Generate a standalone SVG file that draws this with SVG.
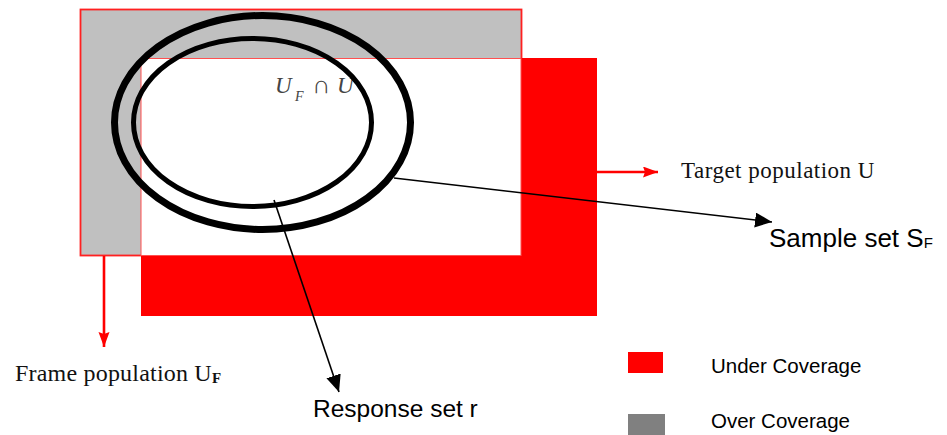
<svg xmlns="http://www.w3.org/2000/svg" width="947" height="435" viewBox="0 0 947 435">
<style>
.serif{font-family:"Liberation Serif","Times New Roman",serif;fill:#111}
.sans{font-family:"Liberation Sans",Arial,sans-serif;fill:#000}
.math{font-family:"Liberation Serif","Times New Roman",serif;font-style:italic;fill:#444}
.blk{stroke:#000;stroke-width:1.6;fill:none}
.red{stroke:#ff0000;stroke-width:2.6;fill:none}
</style>
<defs>
<marker id="ab" markerUnits="userSpaceOnUse" markerWidth="18" markerHeight="16" refX="17" refY="7.5" orient="auto">
<path d="M0,0 L17,7.5 L0,15 z" fill="#000"/>
</marker>
<marker id="ar" markerUnits="userSpaceOnUse" markerWidth="16" markerHeight="12" refX="15" refY="5.5" orient="auto">
<path d="M0,0 L15,5.5 L0,11 L2,5.5 z" fill="#ff0000"/>
</marker>
</defs>
<rect width="947" height="435" fill="#fff"/>
<g id="frame-population">
<rect x="80.5" y="9.5" width="441" height="246" fill="#c0c0c0" stroke="#ff2020" stroke-width="1.8"/>
</g>
<g id="target-population">
<rect x="141" y="58" width="456" height="258" fill="#ff0000"/>
<rect x="141" y="58.5" width="380" height="197" fill="#fff" stroke="#ff5050" stroke-width="1"/>
</g>
<g id="intersection-label">
<text class="math" x="275" y="93" font-size="23">U</text>
<text class="math" x="295" y="101" font-size="14">F</text>
<text class="math" x="312" y="93" font-size="25" font-style="normal">∩</text>
<text class="math" x="337" y="93" font-size="23">U</text>
</g>
<g id="sample-set-ellipse">
<ellipse cx="262.5" cy="122.5" rx="148" ry="107" fill="none" stroke="#000" stroke-width="7"/>
</g>
<g id="response-set-ellipse">
<ellipse cx="252.5" cy="122.5" rx="119" ry="84" fill="none" stroke="#000" stroke-width="5"/>
</g>
<g id="connectors">
<line class="blk" x1="394" y1="178" x2="772" y2="222" marker-end="url(#ab)"/>
<line class="blk" x1="274" y1="200" x2="339" y2="392" marker-end="url(#ab)"/>
<line class="red" x1="104" y1="256" x2="104" y2="347" marker-end="url(#ar)"/>
<line class="red" x1="597" y1="172" x2="658" y2="172" marker-end="url(#ar)"/>
</g>
<g id="label-target">
<text class="serif" x="681" y="178" font-size="23" letter-spacing="0.5">Target population U</text>
</g>
<g id="label-sample">
<text class="sans" x="769" y="247" font-size="26">Sample set S<tspan font-size="15" dy="1">F</tspan></text>
</g>
<g id="label-frame">
<text class="serif" x="15" y="381" font-size="24" letter-spacing="0.2">Frame population U<tspan font-size="15" font-weight="bold" dy="2" letter-spacing="0">F</tspan></text>
</g>
<g id="label-response">
<text class="sans" x="313" y="417" font-size="24.5">Response set r</text>
</g>
<g id="legend">
<rect x="628" y="352" width="35" height="21" fill="#ff0000"/>
<text class="sans" x="711" y="373" font-size="20.5" fill="#222">Under Coverage</text>
<rect x="628" y="414" width="37" height="22" fill="#808080"/>
<text class="sans" x="711" y="428" font-size="20.5" fill="#222">Over Coverage</text>
</g>
</svg>
